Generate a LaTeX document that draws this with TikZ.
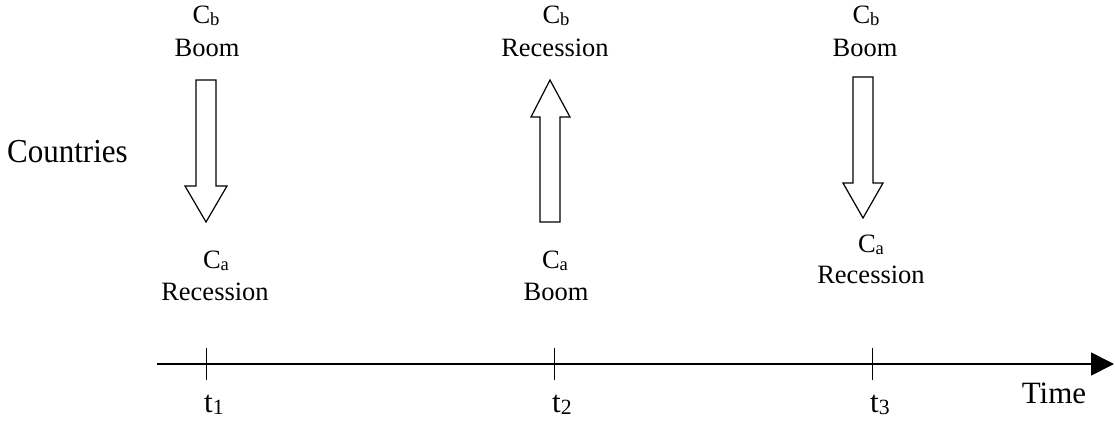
\documentclass[tikz,border=0pt]{standalone}
\usepackage{fontspec}
\usepackage{graphicx}
\setmainfont{Liberation Serif}
\usetikzlibrary{arrows.meta}
\newcommand\lsub[1]{\raisebox{-0.09em}{\scalebox{0.7}{#1}}}
\tikzset{
  lbl/.style={inner sep=0pt, anchor=base, font=\fontsize{26.5}{30}\selectfont},
  big/.style={inner sep=0pt, anchor=base, font=\fontsize{31}{34}\selectfont},
  blockarrow/.style={draw=black, line width=1.2pt, fill=white, line join=miter},
  axis/.style={line width=1.6pt, -{Triangle[length=23pt,width=23pt]}},
  tick/.style={line width=1pt}
}
\begin{document}
\begin{tikzpicture}[x=1pt,y=-1pt]
\useasboundingbox (0,0) rectangle (1115,421);
% axis
\coordinate (axs) at (157,364);
\coordinate (axe) at (1114,364);
\draw[axis] (axs) -- (axe);
\foreach \n/\x in {1/206,2/554,3/872}{
  \coordinate (tt\n) at (\x,348);
  \coordinate (tb\n) at (\x,380);
  \draw[tick] (tt\n) -- (tb\n);
}
\node[big, anchor=base west] (t1) at (204,412) {t\lsub{1}};
\node[big, anchor=base west] (t2) at (552,412) {t\lsub{2}};
\node[big, anchor=base west] (t3) at (870,412) {t\lsub{3}};
\node[big] (time) at (1054,403) {Time};
\node[big, anchor=base west] (countries) at (7,162) {\scalebox{1}[1.08]{Countries}};
% block arrows
\draw[blockarrow] (196,80) -- (216,80) -- (216,186) -- (227,186) -- (206,222) -- (185,186) -- (196,186) -- cycle;
\draw[blockarrow] (540,222) -- (560,222) -- (560,117) -- (570,117) -- (550,80) -- (531,117) -- (540,117) -- cycle;
\draw[blockarrow] (853,77) -- (873,77) -- (873,183) -- (883,183) -- (863,218) -- (843,183) -- (853,183) -- cycle;
% labels set 1
\node[lbl] (cb1) at (206,23) {C\lsub{b}};
\node[lbl] (s1) at (207,56) {Boom};
\node[lbl] (ca1) at (216,268) {C\lsub{a}};
\node[lbl] (r1) at (215,300) {Recession};
% set 2
\node[lbl] (cb2) at (556,23) {C\lsub{b}};
\node[lbl] (r2) at (555,56) {Recession};
\node[lbl] (ca2) at (555,268) {C\lsub{a}};
\node[lbl] (s2) at (556,300) {Boom};
% set 3
\node[lbl] (cb3) at (866,23) {C\lsub{b}};
\node[lbl] (s3) at (865,56) {Boom};
\node[lbl] (ca3) at (871,252) {C\lsub{a}};
\node[lbl] (r3) at (871,283) {Recession};
\end{tikzpicture}
\end{document}
